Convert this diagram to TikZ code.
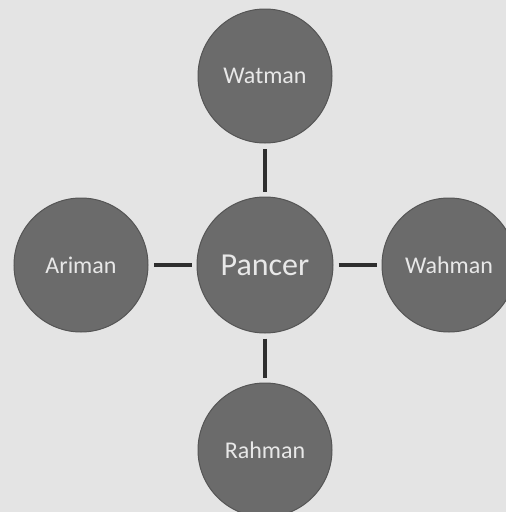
\documentclass[tikz,border=0pt]{standalone}
\usepackage{fontspec}
\setmainfont{Carlito}
\definecolor{paper}{HTML}{E4E4E4}
\definecolor{disc}{HTML}{6B6B6B}
\definecolor{discedge}{HTML}{555555}
\definecolor{label}{HTML}{E8E8E8}
\definecolor{link}{HTML}{2E2E2E}
\begin{document}
\begin{tikzpicture}[x=1pt,y=-1pt,
  orb/.style={circle,fill=disc,draw=discedge,line width=1pt,minimum size=134pt,inner sep=0pt,text=label,font=\fontsize{24}{27}\selectfont},
  hub/.style={orb,minimum size=136pt,font=\fontsize{32}{35}\selectfont},
  linkline/.style={draw=link,line width=3.5pt,shorten <=5pt,shorten >=5pt}]
\fill[paper] (0,0) rectangle (506,512);
\useasboundingbox (0,0) rectangle (506,512);
\node[hub] (p) at (265,265) {Pancer};
\node[orb] (w) at (265,76) {Watman};
\node[orb] (a) at (81,265) {Ariman};
\node[orb] (h) at (449,265) {Wahman};
\node[orb] (r) at (265,450) {Rahman};
\draw[linkline] (p) -- (w);
\draw[linkline] (p) -- (r);
\draw[linkline] (p) -- (a);
\draw[linkline] (p) -- (h);
\end{tikzpicture}
\end{document}
